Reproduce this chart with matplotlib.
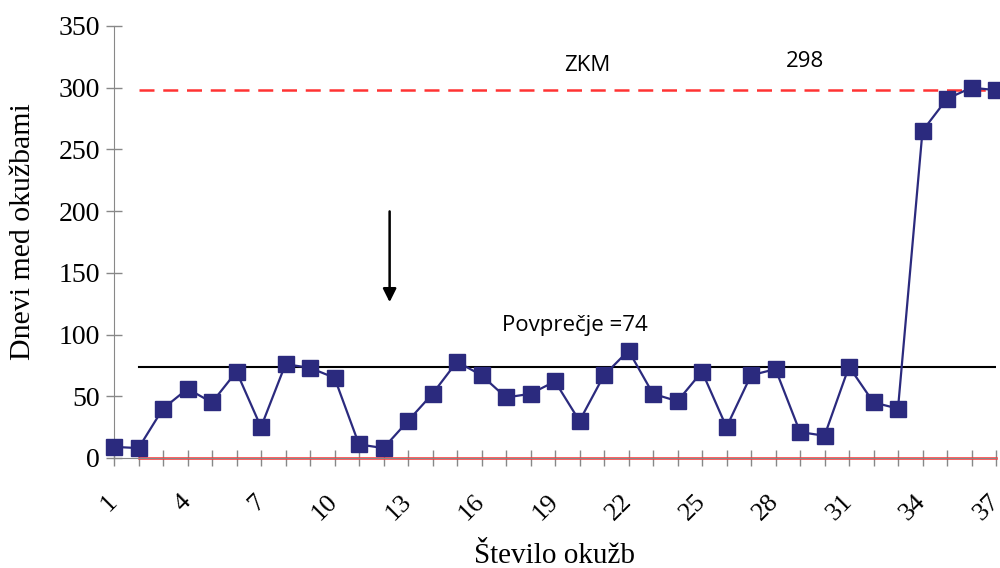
import matplotlib.pyplot as plt

# data
infection = list(range(1, 38))
days = [9, 8, 40, 56, 45, 70, 25, 76, 73, 65, 11, 8, 30, 52, 78, 67, 49, 52, 62, 30,
        67, 87, 52, 46, 70, 25, 67, 72, 21, 18, 74, 45, 40, 265, 291, 300, 298]
mean_value = 74
ucl_value = 298
lcl_value = 0
x_ticks = list(range(1, 38, 3))
y_ticks = list(range(0, 351, 50))

serif = 'Liberation Serif'
sans = 'Open Sans'

fig = plt.figure(figsize=(10, 5.68), dpi=100)
ax = fig.add_axes([0.114, 0.1937, 0.882, 0.7606])

# control limits and mean
ax.plot([2, 37], [ucl_value, ucl_value], color='#ff3333', linestyle=(0, (6, 3.5)), linewidth=1.8, zorder=2)
ax.plot([2, 37], [lcl_value, lcl_value], color='#ff3333', linewidth=1.8, zorder=2, clip_on=False)
ax.plot([2, 37], [mean_value, mean_value], color='black', linewidth=1.5, zorder=2)

# the series
ax.plot(infection, days, color='#2b2a7e', linewidth=1.6, marker='s', markersize=12,
        zorder=3, clip_on=False)

# annotations
ax.text(20.3, 318, 'ZKM', fontsize=16, family=sans, ha='center', va='center')
ax.text(29.2, 321, str(ucl_value), fontsize=16, family=sans, ha='center', va='center')
ax.text(19.8, 107, 'Povprečje =' + str(mean_value), fontsize=16, family=sans, ha='center', va='center')
ax.annotate('', xy=(12.25, 124), xytext=(12.25, 202),
            arrowprops=dict(arrowstyle='-|>', color='black', lw=1.8, mutation_scale=20))

ax.set_xlim(1, 37)
ax.set_ylim(0, 350)
ax.set_xticks(x_ticks)
ax.set_xticks(infection, minor=True)
ax.set_yticks(y_ticks)
ax.set_xticklabels([str(t) for t in x_ticks], rotation=45, fontsize=19, family=serif,
                   ha='right', va='center', rotation_mode='anchor')
ax.set_yticklabels([str(t) for t in y_ticks], fontsize=20, family=serif)
ax.tick_params(axis='both', which='both', direction='inout', color='#888888', width=1)
ax.tick_params(axis='x', which='both', length=12, pad=23)
ax.tick_params(axis='y', length=12, pad=4)

for side in ['top', 'right']:
    ax.spines[side].set_visible(False)
ax.spines['left'].set_color('#888888')
ax.spines['bottom'].set_color('#888888')

ax.set_ylabel('Dnevi med okužbami', fontsize=21.5, family=serif, va='center')
ax.yaxis.set_label_coords(-0.103, 0.525)
ax.set_xlabel('Število okužb', fontsize=21, family=serif, va='center')
ax.xaxis.set_label_coords(0.5, -0.226)

fig.savefig('out.png', dpi=100)
